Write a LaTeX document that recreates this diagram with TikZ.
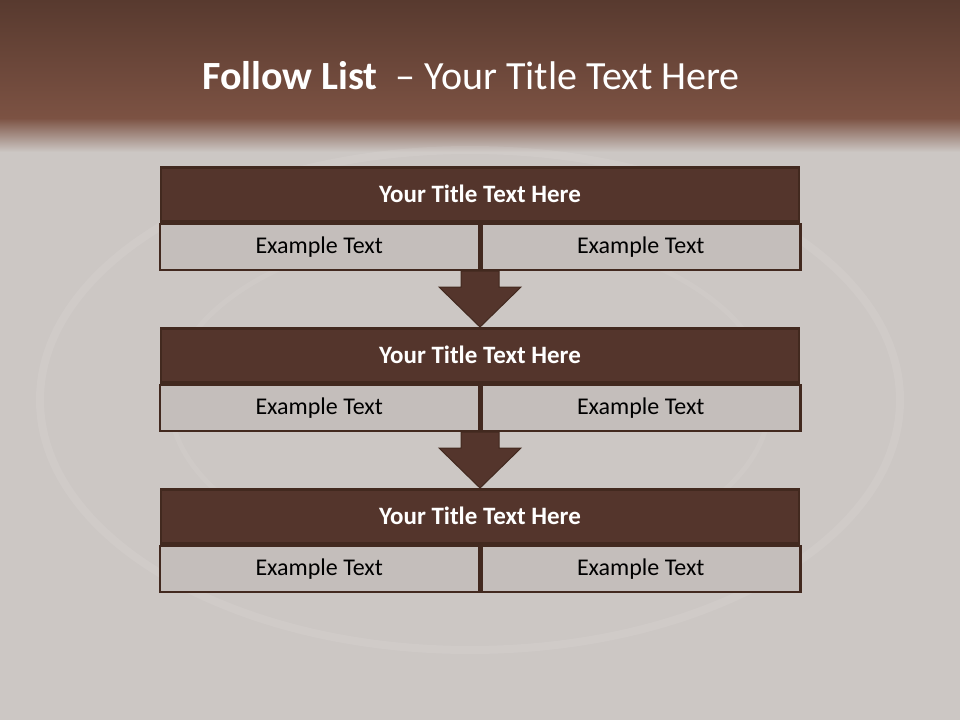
\documentclass[tikz,border=0pt]{standalone}
\usepackage{fontspec}
\setmainfont{Carlito}
\usetikzlibrary{positioning,calc}

\definecolor{bandtop}{HTML}{583A2F}
\definecolor{bandlow}{HTML}{7C5243}
\definecolor{paper}{HTML}{CCC7C4}
\definecolor{boxbrown}{HTML}{54352C}
\definecolor{edgebrown}{HTML}{42291F}
\definecolor{cellgray}{HTML}{C4BEBB}

\tikzset{
  titlebox/.style={draw=edgebrown, line width=2.5pt, fill=boxbrown,
    minimum width=638pt, minimum height=54pt, inner sep=0pt,
    text=white, font=\fontsize{25}{30}\selectfont\bfseries},
  cellbox/.style={draw=edgebrown, line width=2.5pt, fill=cellgray,
    minimum width=319pt, minimum height=46pt, inner sep=0pt,
    text=black, font=\fontsize{24}{29}\selectfont},
  downarrow/.style={fill=boxbrown, draw=edgebrown, line width=1pt, line join=miter}
}

\begin{document}
\begin{tikzpicture}[x=1pt, y=-1pt]
  % background and header band
  \fill[paper] (0,0) rectangle (960,720);
  \shade[top color=bandtop, bottom color=bandlow] (0,0) rectangle (960,118);
  \shade[top color=bandlow, bottom color=paper] (0,118) rectangle (960,152);
  \draw[white, opacity=0.08, line width=8pt] (470,400) ellipse (430 and 250);
  \draw[white, opacity=0.06, line width=5pt] (470,400) ellipse (300 and 170);
  \useasboundingbox (0,0) rectangle (960,720);

  % slide title
  \node[text=white, font=\fontsize{40}{48}\selectfont] (head) at (471,76)
    {\textbf{Follow List} \ – Your Title Text Here};

  % three rows
  \foreach \i/\y in {1/166, 2/327, 3/488} {
    \node[titlebox, anchor=north] (t\i) at (480,\y) {Your Title Text Here};
    \node[cellbox, anchor=north east] (l\i) at (t\i.south) {Example Text};
    \node[cellbox, anchor=north west] (r\i) at (t\i.south) {Example Text};
  }

  % arrows between rows
  \foreach \a/\b in {1/2, 2/3} {
    \coordinate (c\a) at (l\a.south east);
    \draw[downarrow] ($(c\a)+(-19,0)$) -- ($(c\a)+(-19,16)$) -- ($(c\a)+(-41,16)$)
      -- (t\b.north) -- ($(c\a)+(41,16)$) -- ($(c\a)+(19,16)$)
      -- ($(c\a)+(19,0)$) -- cycle;
  }
\end{tikzpicture}
\end{document}
